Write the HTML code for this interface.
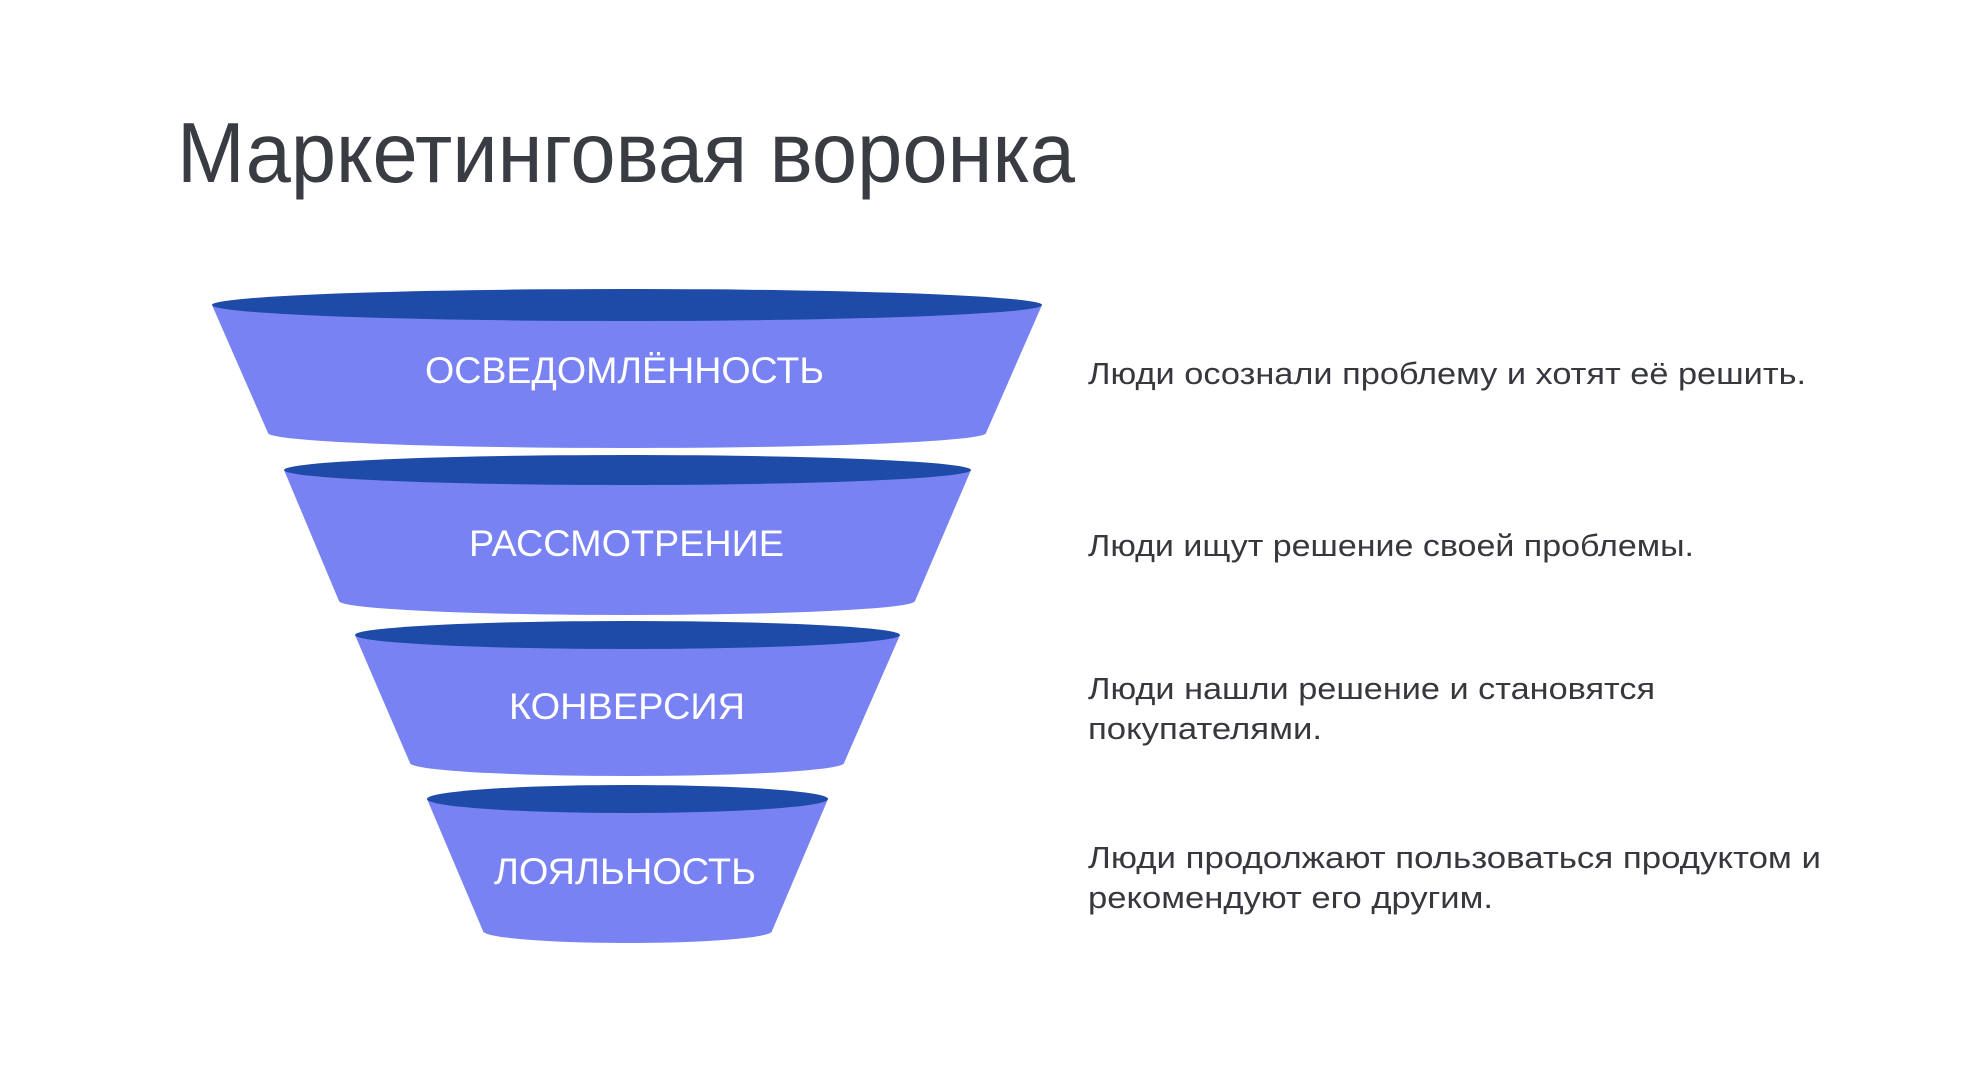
<!DOCTYPE html>
<html><head><meta charset="utf-8"><style>
html,body{margin:0;padding:0;background:#fff;}
svg{display:block;}
</style></head><body>
<svg width="1982" height="1082" viewBox="0 0 1982 1082" xmlns="http://www.w3.org/2000/svg" font-family="'Liberation Sans', sans-serif">
<rect width="1982" height="1082" fill="#fff"/>
<text x="177" y="182" font-size="85" fill="#3a3c44" textLength="898" lengthAdjust="spacingAndGlyphs">Маркетинговая воронка</text>

<path d="M212 305 L268 433 A359 15 0 0 0 986 433 L1042 305 Z" fill="#7882f3"/>
<ellipse cx="627" cy="305" rx="415" ry="16" fill="#1d4ba7"/>
<text x="425" y="383" font-size="37" fill="#fff" textLength="399" lengthAdjust="spacingAndGlyphs">ОСВЕДОМЛЁННОСТЬ</text>

<path d="M284 470 L339 601 A288 14 0 0 0 915 601 L971 470 Z" fill="#7882f3"/>
<ellipse cx="627.5" cy="470" rx="343.5" ry="15" fill="#1d4ba7"/>
<text x="469" y="556" font-size="37" fill="#fff" textLength="315" lengthAdjust="spacingAndGlyphs">РАССМОТРЕНИЕ</text>

<path d="M355 635 L410 763 A217 13 0 0 0 844 763 L900 635 Z" fill="#7882f3"/>
<ellipse cx="627.5" cy="635" rx="272.5" ry="14" fill="#1d4ba7"/>
<text x="509" y="719" font-size="37" fill="#fff" textLength="236" lengthAdjust="spacingAndGlyphs">КОНВЕРСИЯ</text>

<path d="M427 799 L483 931 A144.5 12 0 0 0 772 931 L828 799 Z" fill="#7882f3"/>
<ellipse cx="627.5" cy="799" rx="200.5" ry="14" fill="#1d4ba7"/>
<text x="494" y="884" font-size="37" fill="#fff" textLength="262" lengthAdjust="spacingAndGlyphs">ЛОЯЛЬНОСТЬ</text>

<g font-size="31" fill="#36383e">
<text x="1088" y="384" textLength="718" lengthAdjust="spacingAndGlyphs">Люди осознали проблему и хотят её решить.</text>
<text x="1088" y="556" textLength="606" lengthAdjust="spacingAndGlyphs">Люди ищут решение своей проблемы.</text>
<text x="1088" y="699" textLength="567" lengthAdjust="spacingAndGlyphs">Люди нашли решение и становятся</text>
<text x="1088" y="739" textLength="234" lengthAdjust="spacingAndGlyphs">покупателями.</text>
<text x="1088" y="868" textLength="733" lengthAdjust="spacingAndGlyphs">Люди продолжают пользоваться продуктом и</text>
<text x="1088" y="908" textLength="405" lengthAdjust="spacingAndGlyphs">рекомендуют его другим.</text>
</g>
</svg>
</body></html>
